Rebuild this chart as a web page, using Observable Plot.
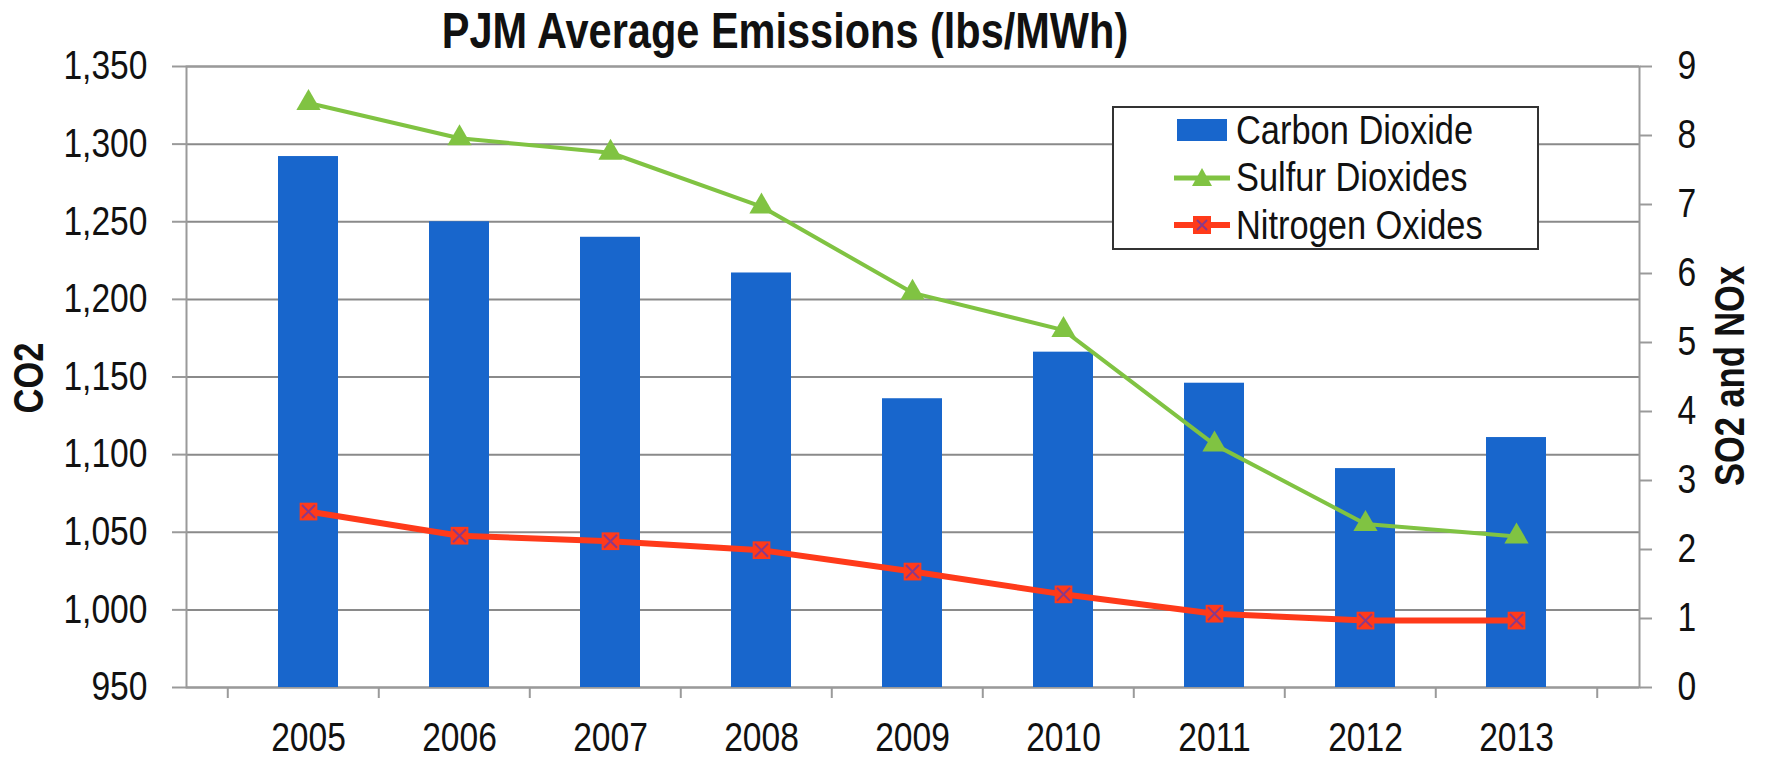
<!DOCTYPE html>
<html>
<head>
<meta charset="utf-8">
<script src="https://cdn.jsdelivr.net/npm/d3@7"></script>
<script src="https://cdn.jsdelivr.net/npm/@observablehq/plot@0.6"></script>
<style>
  html, body { margin: 0; padding: 0; background: #fff; overflow: hidden; }
  #wrap { position: relative; width: 1766px; height: 758px; font-family: "Liberation Sans", Arimo, Arial, sans-serif; color: #111; }
  #title { position: absolute; left: 285px; width: 1000px; top: 2px; text-align: center; font-size: 50px; font-weight: bold; line-height: 58px; white-space: nowrap; transform: scaleX(0.83); transform-origin: 50% 50%; }
  .ytitle { position: absolute; font-size: 42px; font-weight: bold; white-space: nowrap; transform: translate(-50%, -50%) rotate(-90deg) scaleX(0.82); line-height: 42px; }
  #legend { position: absolute; left: 1112px; top: 106px; width: 423px; height: 140px; border: 2px solid #333; background: #fff; box-sizing: content-box; }
  .row { position: absolute; left: 0; height: 46px; display: flex; align-items: center; font-size: 40px; white-space: nowrap; }
  .row svg { margin-left: 60px; margin-right: 6px; flex: none; }
  .row span { display: inline-block; transform: scaleX(0.86); transform-origin: 0 50%; }
</style>
</head>
<body>
<div id="wrap">
  <div id="chart"></div>
  <div id="title">PJM Average Emissions (lbs/MWh)</div>
  <div class="ytitle" style="left:29px; top:378px;">CO2</div>
  <div class="ytitle" style="left:1730px; top:376px;">SO2 and NOx</div>
  <div id="legend"></div>
</div>
<script>
// ---- data ----
const years = ["2005", "2006", "2007", "2008", "2009", "2010", "2011", "2012", "2013"];
const co2 = [1292, 1250, 1240, 1217, 1136, 1166, 1146, 1091, 1111];
const so2 = [8.47, 7.96, 7.75, 6.97, 5.72, 5.18, 3.52, 2.37, 2.19];
const nox = [2.55, 2.20, 2.12, 1.99, 1.68, 1.35, 1.07, 0.97, 0.97];
const leftTicks = [950, 1000, 1050, 1100, 1150, 1200, 1250, 1300, 1350];
const rightTicks = [0, 1, 2, 3, 4, 5, 6, 7, 8, 9];
const seriesNames = ["Carbon Dioxide", "Sulfur Dioxides", "Nitrogen Oxides"];

const colors = { co2: "#1866cc", so2: "#80c342", nox: "#ff3a1a", noxX: "#8a3a8a", grid: "#8a8a8a", axis: "#9a9a9a" };

// map right-axis values onto the left-axis scale
const lo = leftTicks[0], hi = leftTicks[leftTicks.length - 1];
const rMax = rightTicks[rightTicks.length - 1];
const toLeft = v => lo + v * (hi - lo) / rMax;
const fromLeft = y => Math.round((y - lo) * rMax / (hi - lo));

const rows = years.map((year, i) => ({ year, co2: co2[i], so2: so2[i], nox: nox[i] }));

const font = '"Liberation Sans", Arimo, Arial, sans-serif';
const W = 1766, mL = 186, mR = 127;
const half = (W - mL - mR) / years.length / 2;

const chart = Plot.plot({
  width: W,
  height: 758,
  marginLeft: mL,
  marginRight: mR,
  marginTop: 66,
  marginBottom: 71,
  style: { fontFamily: font, fontSize: "40px", color: "#111", background: "white", overflow: "visible" },
  x: { domain: years, padding: 0.6, label: null },
  y: { domain: [lo, hi], label: null },
  marks: [
    Plot.gridY(leftTicks, { stroke: colors.grid, strokeOpacity: 1, strokeWidth: 2 }),
    Plot.frame({ stroke: colors.axis, strokeWidth: 2 }),
    Plot.axisY(leftTicks, { anchor: "left", tickFormat: d3.format(","), tickSize: 14, tickPadding: 25, stroke: colors.axis, strokeWidth: 2, fontSize: 40, label: null }),
    Plot.axisY(rightTicks.map(toLeft), { anchor: "right", tickFormat: fromLeft, tickSize: 12, tickPadding: 26, stroke: colors.axis, strokeWidth: 2, fontSize: 40, label: null }),
    Plot.axisX({ anchor: "bottom", tickSize: 0, tickPadding: 35, fontSize: 40, label: null }),
    Plot.axisX(years, { anchor: "bottom", tickSize: 11, tickFormat: () => "", dx: -half, stroke: colors.axis, strokeWidth: 2, label: null }),
    Plot.axisX(years.slice(-1), { anchor: "bottom", tickSize: 11, tickFormat: () => "", dx: half, stroke: colors.axis, strokeWidth: 2, label: null }),
    Plot.barY(rows, { x: "year", y1: lo, y2: "co2", fill: colors.co2 }),
    Plot.line(rows, { x: "year", y: d => toLeft(d.so2), stroke: colors.so2, strokeWidth: 4 }),
    Plot.dot(rows, { x: "year", y: d => toLeft(d.so2), symbol: "triangle", fill: colors.so2, r: 9 }),
    Plot.line(rows, { x: "year", y: d => toLeft(d.nox), stroke: colors.nox, strokeWidth: 6 }),
    Plot.dot(rows, { x: "year", y: d => toLeft(d.nox), symbol: "square", fill: colors.nox, r: 10 }),
    Plot.dot(rows, { x: "year", y: d => toLeft(d.nox), symbol: "times", stroke: colors.noxX, strokeWidth: 2, r: 6 })
  ]
});
document.getElementById("chart").appendChild(chart);

// condense the axis labels horizontally (narrow-font look)
chart.querySelectorAll("text").forEach(t => {
  const len = t.getComputedTextLength();
  if (len > 0) {
    t.setAttribute("textLength", (len * 0.84).toFixed(1));
    t.setAttribute("lengthAdjust", "spacingAndGlyphs");
  }
});

// ---- legend ----
const legend = document.getElementById("legend");
const swatches = [
  `<svg width="56" height="30"><rect x="3" y="4" width="50" height="22" fill="${colors.co2}"/></svg>`,
  `<svg width="56" height="30"><line x1="0" x2="56" y1="15" y2="15" stroke="${colors.so2}" stroke-width="5"/><path d="M28,5 L38,23 L18,23 Z" fill="${colors.so2}"/></svg>`,
  `<svg width="56" height="30"><line x1="0" x2="56" y1="15" y2="15" stroke="${colors.nox}" stroke-width="6"/><rect x="19" y="6" width="18" height="18" fill="${colors.nox}"/><path d="M23,10 L33,20 M33,10 L23,20" stroke="${colors.noxX}" stroke-width="2"/></svg>`
];
seriesNames.forEach((name, i) => {
  const r = document.createElement("div");
  r.className = "row";
  r.style.top = (-1 + i * 47.5) + "px";
  r.innerHTML = swatches[i] + `<span>${name}</span>`;
  legend.appendChild(r);
});
</script>
</body>
</html>
